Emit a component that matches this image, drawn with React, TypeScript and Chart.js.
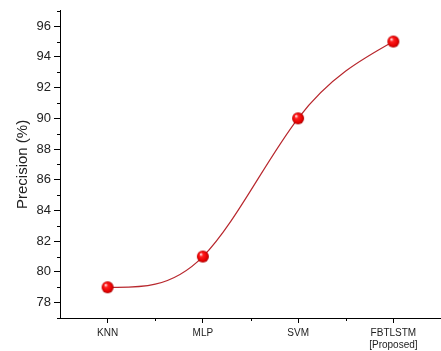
import React, { useEffect, useRef } from "react";
import { Chart, registerables } from "chart.js";

Chart.register(...registerables);

const categories: (string | string[])[] = ["KNN", "MLP", "SVM", ["FBTLSTM", "[Proposed]"]];
const precision: number[] = [79, 81, 90, 95];
const yTicks: number[] = [78, 80, 82, 84, 86, 88, 90, 92, 94, 96];
const yMinor: number[] = [77, 79, 81, 83, 85, 87, 89, 91, 93, 95, 97];

function makeSphere(r: number): HTMLCanvasElement {
  const c = document.createElement("canvas");
  const s = r * 2 + 2;
  c.width = s;
  c.height = s;
  const ctx = c.getContext("2d")!;
  const cx = s / 2;
  const g = ctx.createRadialGradient(cx - r * 0.35, cx - r * 0.4, r * 0.1, cx, cx, r);
  g.addColorStop(0, "#ffd8d8");
  g.addColorStop(0.25, "#ff2020");
  g.addColorStop(0.75, "#e80000");
  g.addColorStop(1, "#a80000");
  ctx.fillStyle = g;
  ctx.beginPath();
  ctx.arc(cx, cx, r, 0, Math.PI * 2);
  ctx.fill();
  return c;
}

// Natural cubic spline control points (like Origin's spline connection),
// computed from the points Chart.js placed through its scales.
const naturalSpline = {
  id: "naturalSpline",
  beforeDatasetDraw(chart: any, args: any) {
    const meta = chart.getDatasetMeta(args.index);
    const line = meta.dataset;
    if (!line) return;
    line.updateControlPoints(chart.chartArea, "x");
    const pts = meta.data;
    const n = pts.length;
    if (n < 3) return;
    const xs = pts.map((p: any) => p.x);
    const ys = pts.map((p: any) => p.y);
    const h: number[] = [];
    for (let i = 0; i < n - 1; i++) h.push(xs[i + 1] - xs[i]);
    const M = new Array(n).fill(0);
    const m = n - 2;
    const a: number[] = [], b: number[] = [], c: number[] = [], d: number[] = [];
    for (let i = 1; i <= m; i++) {
      a.push(h[i - 1]);
      b.push(2 * (h[i - 1] + h[i]));
      c.push(h[i]);
      d.push(6 * ((ys[i + 1] - ys[i]) / h[i] - (ys[i] - ys[i - 1]) / h[i - 1]));
    }
    for (let i = 1; i < m; i++) {
      const w = a[i] / b[i - 1];
      b[i] -= w * c[i - 1];
      d[i] -= w * d[i - 1];
    }
    const sol = new Array(m).fill(0);
    sol[m - 1] = d[m - 1] / b[m - 1];
    for (let i = m - 2; i >= 0; i--) sol[i] = (d[i] - c[i] * sol[i + 1]) / b[i];
    for (let i = 0; i < m; i++) M[i + 1] = sol[i];
    const slope: number[] = [];
    for (let i = 0; i < n - 1; i++) {
      slope.push((ys[i + 1] - ys[i]) / h[i] - (h[i] * (2 * M[i] + M[i + 1])) / 6);
    }
    slope.push((ys[n - 1] - ys[n - 2]) / h[n - 2] + (h[n - 2] * (M[n - 2] + 2 * M[n - 1])) / 6);
    for (let i = 0; i < n; i++) {
      const p = pts[i];
      const hp = i > 0 ? h[i - 1] : 0;
      const hn = i < n - 1 ? h[i] : 0;
      p.cp1x = xs[i] - hp / 3;
      p.cp1y = ys[i] - (slope[i] * hp) / 3;
      p.cp2x = xs[i] + hn / 3;
      p.cp2y = ys[i] + (slope[i] * hn) / 3;
    }
  },
};

const minorTicks = {
  id: "minorTicks",
  afterDraw(chart: any) {
    const ctx = chart.ctx;
    const y = chart.scales.y;
    const x = chart.scales.x;
    const area = chart.chartArea;
    ctx.save();
    ctx.strokeStyle = "#000";
    ctx.lineWidth = 1;
    ctx.beginPath();
    yMinor.forEach((v) => {
      const py = Math.round(y.getPixelForValue(v)) + 0.5;
      ctx.moveTo(area.left, py);
      ctx.lineTo(area.left - 3, py);
    });
    for (let i = 0; i < categories.length - 1; i++) {
      const px = Math.round((x.getPixelForValue(i) + x.getPixelForValue(i + 1)) / 2) + 0.5;
      ctx.moveTo(px, area.bottom);
      ctx.lineTo(px, area.bottom + 3);
    }
    ctx.stroke();
    ctx.restore();
  },
};

export default function App() {
  const ref = useRef<HTMLCanvasElement>(null);
  useEffect(() => {
    document.body.style.margin = "0";
    const sphere = makeSphere(6);
    const chart = new Chart(ref.current!, {
      type: "line",
      data: {
        labels: categories as any,
        datasets: [
          {
            data: precision,
            borderColor: "#b8282e",
            borderWidth: 1.2,
            tension: 0.4,
            pointStyle: sphere as any,
            pointRadius: 6,
            fill: false,
          },
        ],
      },
      options: {
        animation: false,
        responsive: false,
        maintainAspectRatio: false,
        layout: { autoPadding: false, padding: { top: 8, left: 0, right: -3, bottom: 0 } },
        plugins: { legend: { display: false }, tooltip: { enabled: false } },
        scales: {
          x: {
            type: "category",
            offset: true,
            grid: { offset: false, drawOnChartArea: false, drawTicks: true, tickLength: 5, color: "#000" },
            border: { color: "#000", width: 1 },
            ticks: { color: "#222", font: { family: "Arial, Liberation Sans", size: 10 }, padding: 4, maxRotation: 0, autoSkip: false },
            afterFit: (s: any) => {
              s.height = 33;
            },
          },
          y: {
            type: "linear",
            min: 77,
            max: 97,
            afterBuildTicks: (s: any) => {
              s.ticks = yTicks.map((v) => ({ value: v }));
            },
            grid: { drawOnChartArea: false, drawTicks: true, tickLength: 6, color: "#000" },
            border: { color: "#000", width: 1 },
            ticks: { color: "#222", font: { family: "Arial, Liberation Sans", size: 13 }, padding: 3 },
            title: {
              display: true,
              text: "Precision (%)",
              color: "#222",
              font: { family: "Arial, Liberation Sans", size: 15 },
              padding: { top: 14, bottom: 0 },
            },
            afterFit: (s: any) => {
              s.width = 60;
            },
          },
        },
      },
      plugins: [naturalSpline, minorTicks],
    });
    return () => chart.destroy();
  }, []);
  return <canvas ref={ref} width={441} height={351} style={{ display: "block" }} />;
}
